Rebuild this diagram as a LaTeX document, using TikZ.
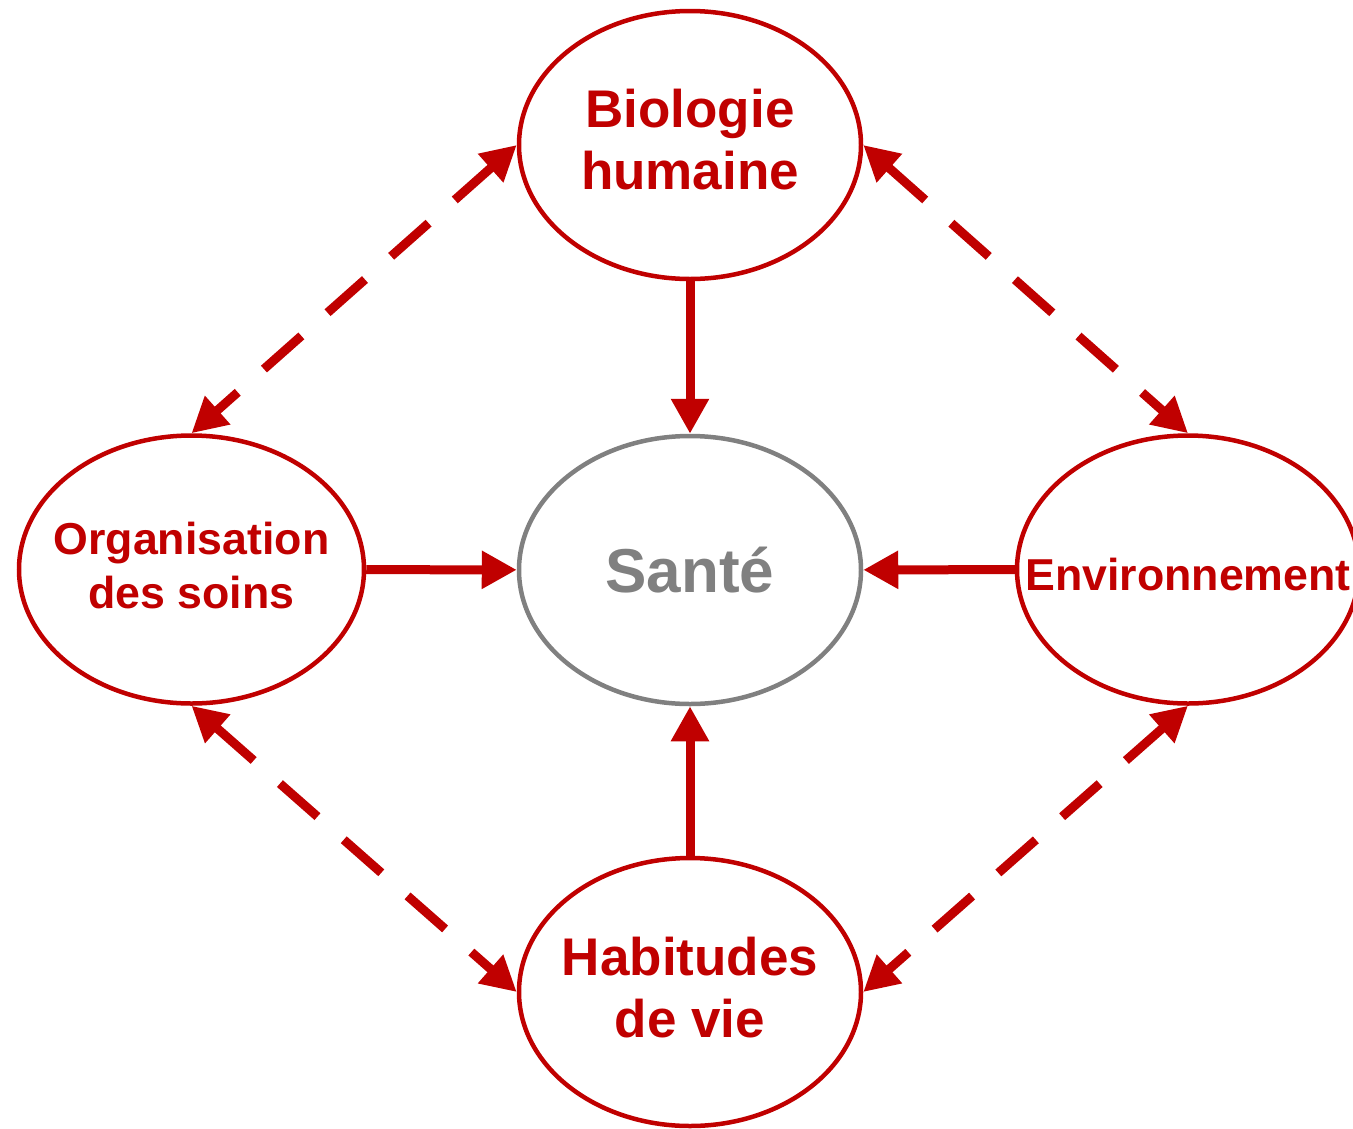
\documentclass[tikz,border=0pt]{standalone}
\usepackage{fontspec}
\setmainfont{Liberation Sans}
\usetikzlibrary{shapes.geometric,arrows.meta}
\definecolor{dred}{HTML}{C00000}
\definecolor{dgray}{HTML}{808080}
\begin{document}
\begin{tikzpicture}[x=1pt,y=-1pt,
  ell/.style={ellipse,draw=dred,line width=4.5pt,minimum width=342pt,minimum height=268pt,inner sep=0pt},
  lbl/.style={text=dred,align=center,inner sep=0pt},
  bigtxt/.style={font=\fontsize{53}{62}\selectfont\bfseries},
  midtxt/.style={font=\fontsize{44.7}{54}\selectfont\bfseries},
  solidarrow/.style={draw=dred,line width=9pt,-{Triangle[length=35pt,width=36pt]}},
  dasharrow/.style={draw=dred,line width=9pt,dash pattern=on 50pt off 35pt,{Triangle[length=35pt,width=36pt]}-{Triangle[length=35pt,width=36pt]}}]
\useasboundingbox (0,0) rectangle (1353,1128);
\node[ell] (bio) at (690,145) {};
\node[ell,draw=dgray] (sante) at (690,570) {};
\node[ell,minimum width=345pt] (org) at (191.5,569.5) {};
\node[ell] (env) at (1188,569.5) {};
\node[ell] (hab) at (690,992) {};
\node[lbl,bigtxt] (biot) at (690,140) {Biologie\\humaine};
\node[lbl,text=dgray,font=\fontsize{62}{70}\selectfont\bfseries] (santet) at (690,570) {Sant\'e};
\node[lbl,midtxt] (orgt) at (191.5,566) {Organisation\\des soins};
\node[lbl,midtxt] (envt) at (1188,575) {Environnement};
\node[lbl,bigtxt] (habt) at (690,988) {Habitudes\\de vie};
\draw[solidarrow] (bio) -- (sante);
\draw[solidarrow] (hab) -- (sante);
\draw[solidarrow] (org) -- (sante);
\draw[solidarrow] (env) -- (sante);
\draw[dasharrow] (bio.west) -- (org.north);
\draw[dasharrow] (bio.east) -- (env.north);
\draw[dasharrow] (org.south) -- (hab.west);
\draw[dasharrow] (env.south) -- (hab.east);
\end{tikzpicture}
\end{document}
